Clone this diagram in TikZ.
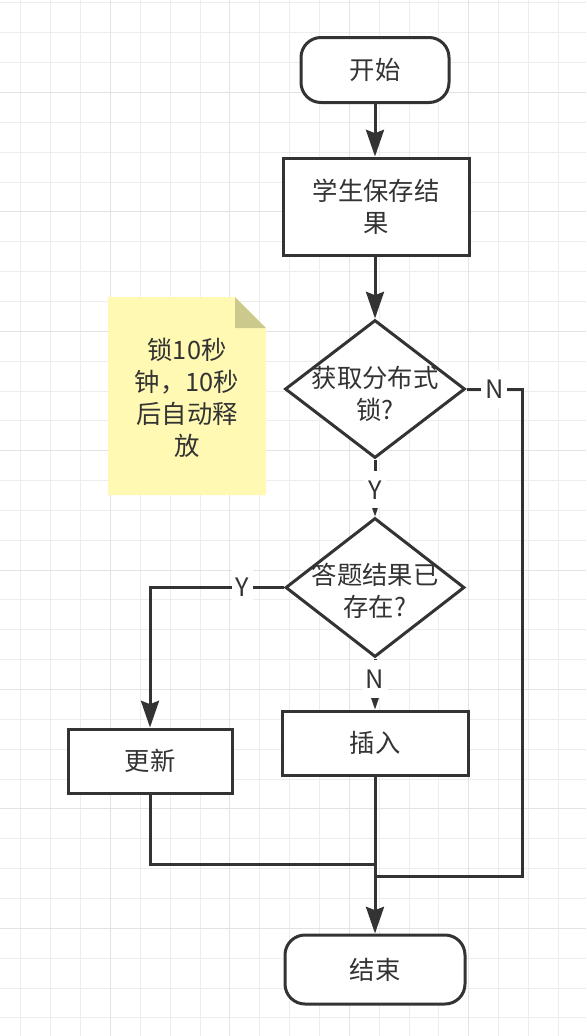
\documentclass[tikz,border=0pt]{standalone}
\usepackage{fontspec}
\setmainfont{Noto Sans CJK SC}
\usetikzlibrary{arrows.meta,shapes.geometric}
\definecolor{ink}{HTML}{333333}
\definecolor{txt}{HTML}{333333}
\definecolor{gridminor}{HTML}{EDEDED}
\definecolor{gridmajor}{HTML}{E3E3E3}
\definecolor{notefill}{HTML}{FFF9B3}
\definecolor{notefold}{HTML}{CBC98C}
\begin{document}
\begin{tikzpicture}[x=0.75pt,y=-0.75pt,
  every node/.style={font=\fontsize{19pt}{24pt}\selectfont, text=txt, align=center},
  box/.style={draw=ink, line width=2.25pt, fill=white, rectangle, inner sep=0pt},
  term/.style={box, rounded corners=15pt},
  decision/.style={draw=ink, line width=2.25pt, fill=white, diamond, inner sep=0pt},
  conn/.style={draw=ink, line width=2.25pt},
  arr/.style={conn, -{Stealth[length=20pt,width=13.5pt,inset=2.5pt]}},
  lbl/.style={fill=white, inner xsep=3pt, inner ysep=0pt, minimum height=28pt},
  gmin/.style={draw=gridminor, line width=0.75pt},
  gmaj/.style={draw=gridmajor, line width=0.75pt},
]
\useasboundingbox (0,0) rectangle (586,1036);
\fill[white] (0,0) rectangle (586,1036);
% grid (snapped to pixel centres)
\foreach \k in {0,...,18} {\pgfmathsetmacro{\gx}{round(20.45+29.85*\k)+0.5}\draw[gmin] (\gx,0) -- (\gx,1036);}
\foreach \k in {0,...,34} {\pgfmathsetmacro{\gy}{round(2.45+29.85*\k)+0.5}\draw[gmin] (0,\gy) -- (586,\gy);}
\foreach \k in {3,7,11,15} {\pgfmathsetmacro{\gx}{round(20.45+29.85*\k)+0.5}\draw[gmaj] (\gx,0) -- (\gx,1036);}
\foreach \k in {3,7,...,31} {\pgfmathsetmacro{\gy}{round(2.45+29.85*\k)+0.5}\draw[gmaj] (0,\gy) -- (586,\gy);}

% note
\fill[notefill] (108,297) -- (235,297) -- (266,328) -- (266,495) -- (108,495) -- cycle;
\fill[notefold] (235,297) -- (266,328) -- (235,328) -- cycle;
\node (note) at (187,397.5) {锁10秒\\钟，10秒\\后自动释\\放};

% nodes
\node[term, minimum width=111pt, minimum height=48.75pt] (start) at (375,70) {开始};
\node[box, minimum width=139.5pt, minimum height=72.75pt] (save) at (376,206.5) {学生保存结\\果};
\node[decision, minimum width=135pt, minimum height=103.5pt] (d1) at (375,389) {};
\node (d1t) at (375,394) {获取分布式\\锁?};
\node[decision, minimum width=134.25pt, minimum height=104.25pt] (d2) at (375,587.5) {};
\node (d2t) at (375,591) {答题结果已\\存在?};
\node[box, minimum width=139.5pt, minimum height=48pt] (ins) at (375,743) {插入};
\node[box, minimum width=123pt, minimum height=48pt] (upd) at (150,761) {更新};
\node[term, minimum width=135pt, minimum height=51.75pt] (end) at (375,969.5) {结束};

% helper coordinates
\coordinate (nr) at (522,389);
\coordinate (jn) at (375,876);
\coordinate (ju) at (375,864);
\coordinate (yl) at (150,587.5);

% connectors
\draw[arr] (start.south) -- (save.north -| start.south);
\draw[arr] (save.south -| d1.north) -- (d1.north);
\draw[arr] (d1.south) -- node[lbl, pos=0.53] (ylab1) {Y} (d2.north);
\draw[conn] (d1.east) -- node[lbl, pos=0.5] (nlab1) {N} (nr) -- (nr |- jn) -- (jn);
\draw[arr] (d2.west) -- node[lbl, pos=0.31] (ylab2) {Y} (yl) -- (upd.north);
\draw[arr] (d2.south) -- node[lbl, pos=0.4] (nlab2) {N} (ins.north);
\draw[conn] (upd.south) |- (ju);
\draw[arr] (ins.south) -- (end.north);
\end{tikzpicture}
\end{document}
